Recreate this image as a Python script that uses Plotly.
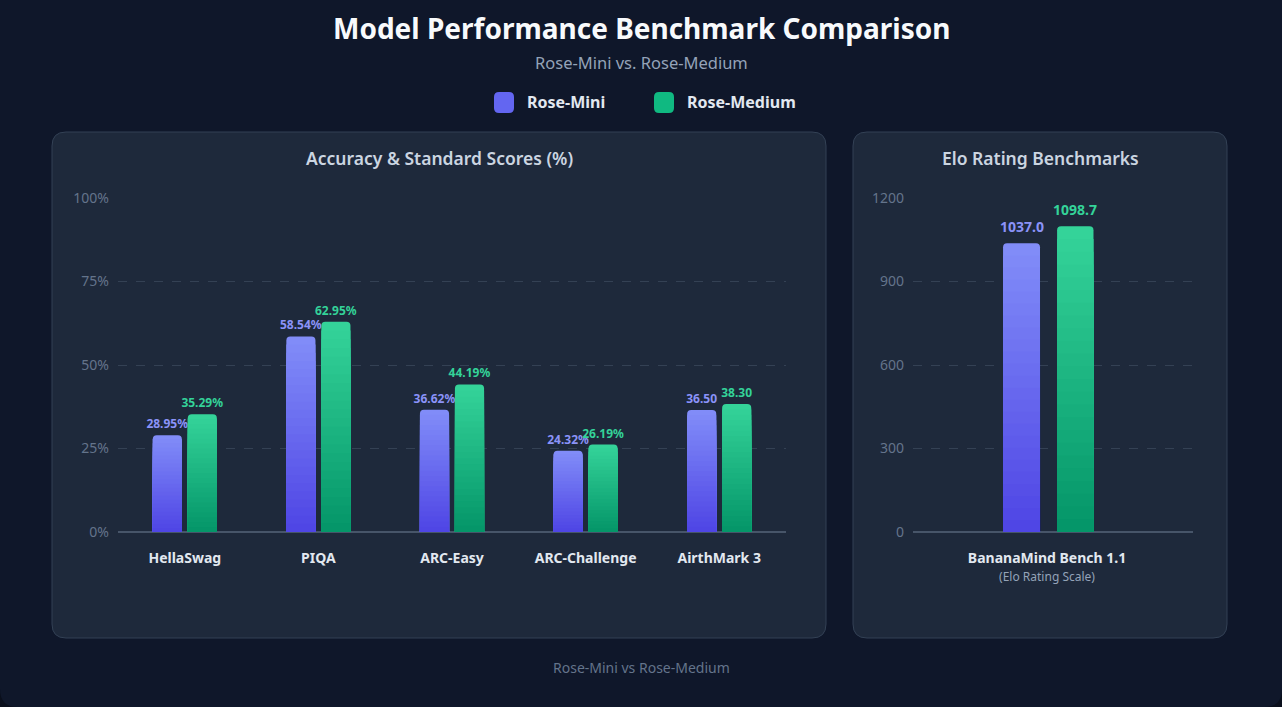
import plotly.graph_objects as go

# ---- data ----
categories = ["HellaSwag", "PIQA", "ARC-Easy", "ARC-Challenge", "AirthMark 3"]
mini_scores = [28.95, 58.54, 36.62, 24.32, 36.50]
medium_scores = [35.29, 62.95, 44.19, 26.19, 38.30]
score_suffix = ["%", "%", "%", "%", ""]

elo_categories = ["BananaMind Bench 1.1"]
mini_elo = [1037.0]
medium_elo = [1098.7]

pct_ticks = [0, 25, 50, 75, 100]
elo_ticks = [0, 300, 600, 900, 1200]

W, H = 1282, 707
FONT = "Segoe UI, Noto Sans, sans-serif"
PURPLE = ("#818cf8", "#4f46e5")
GREEN = ("#34d399", "#059669")


def px(x):
    return x / W


def py(y):
    return 1 - y / H


def rounded_path(x0, y0, x1, y1, r):
    # rounded rect in pixel coords -> paper path
    rx, ry = r / W, r / H
    a, b, c, d = px(x0), py(y0), px(x1), py(y1)
    return (f"M {a + rx},{b} L {c - rx},{b} Q {c},{b} {c},{b - ry} "
            f"L {c},{d + ry} Q {c},{d} {c - rx},{d} L {a + rx},{d} "
            f"Q {a},{d} {a},{d + ry} L {a},{b - ry} Q {a},{b} {a + rx},{b} Z")


def mix(c1, c2, t):
    c1 = [int(c1[i:i + 2], 16) for i in (1, 3, 5)]
    c2 = [int(c2[i:i + 2], 16) for i in (1, 3, 5)]
    return "rgb(%d,%d,%d)" % tuple(round(a + (b - a) * t) for a, b in zip(c1, c2))


def gradient_bars(fig, x, values, colors, width, offset, xa, ya,
                  labels=None, tsize=12, tcolor=None, n=24):
    # bars drawn as overlaid bands, light at top -> dark at bottom
    top, bottom = colors
    for k in range(n):
        ys = [v * (n - k) / n for v in values]
        kw = {}
        if k == 0:
            kw = dict(marker_cornerradius=4)
            if labels is not None:
                kw.update(text=labels, texttemplate="<b>%{text}</b>",
                          textposition="outside", constraintext="none",
                          cliponaxis=False,
                          textfont=dict(size=tsize, color=tcolor, family=FONT))
        fig.add_trace(go.Bar(x=x, y=ys, width=width, offset=offset,
                             marker_color=mix(top, bottom, k / (n - 1)),
                             marker_line_width=0, xaxis=xa, yaxis=ya,
                             showlegend=False, hoverinfo="skip", **kw))


fig = go.Figure()

mini_labels = [f"{v:.2f}{s}" for v, s in zip(mini_scores, score_suffix)]
med_labels = [f"{v:.2f}{s}" for v, s in zip(medium_scores, score_suffix)]
gradient_bars(fig, categories, mini_scores, PURPLE, 0.218, -0.24, "x", "y",
              mini_labels, 12, "#8b93f8")
gradient_bars(fig, categories, medium_scores, GREEN, 0.218, 0.022, "x", "y",
              med_labels, 12, "#34d399")

# elo bars: width / offset in category units
elo_bars = [(mini_elo, PURPLE, 0.132, -0.157, "#8b93f8"),
            (medium_elo, GREEN, 0.13, 0.036, "#34d399")]
annotations = []
for vals, cols, wd, off, tc in elo_bars:
    gradient_bars(fig, elo_categories, vals, cols, wd, off, "x2", "y2")
    for i, v in enumerate(vals):
        annotations.append(dict(xref="x2", yref="y2", x=i + off + wd / 2, y=v,
                                yshift=17, text=f"<b>{v:.1f}</b>",
                                font=dict(size=14, color=tc)))

shapes = [
    # page container with rounded bottom corners
    dict(type="path", xref="paper", yref="paper", layer="below",
         path=(f"M 0,1.1 L 1,1.1 L 1,{py(707 - 18)} Q 1,0 {1 - 18 / W},0 "
               f"L {18 / W},0 Q 0,0 0,{py(707 - 18)} Z"),
         fillcolor="#0f172a", line_width=0),
    dict(type="path", xref="paper", yref="paper", layer="below",
         path=rounded_path(52, 132, 826, 638, 14),
         fillcolor="#1e293b", line=dict(color="#334155", width=1)),
    dict(type="path", xref="paper", yref="paper", layer="below",
         path=rounded_path(853, 132, 1227, 638, 14),
         fillcolor="#1e293b", line=dict(color="#334155", width=1)),
    # legend swatches
    dict(type="path", xref="paper", yref="paper", layer="above",
         path=rounded_path(494, 92, 514, 113, 5),
         fillcolor="#6366f1", line_width=0),
    dict(type="path", xref="paper", yref="paper", layer="above",
         path=rounded_path(654, 92, 674, 113, 5),
         fillcolor="#10b981", line_width=0),
]

texts = [
    dict(text="<b>Model Performance Benchmark Comparison</b>", x=0.5, y=py(28),
         font=dict(size=28, color="#f8fafc")),
    dict(text="Rose-Mini vs. Rose-Medium", x=0.5, y=py(62),
         font=dict(size=16.5, color="#94a3b8")),
    dict(text="<b>Rose-Mini</b>", x=px(525), y=py(102), xanchor="left",
         font=dict(size=16, color="#e2e8f0")),
    dict(text="<b>Rose-Medium</b>", x=px(685), y=py(102), xanchor="left",
         font=dict(size=16, color="#e2e8f0")),
    dict(text="Accuracy & Standard Scores (%)", x=px(439), y=py(158),
         font=dict(size=17.5, color="#cbd5e1", weight=600)),
    dict(text="Elo Rating Benchmarks", x=px(1040), y=py(158),
         font=dict(size=17.5, color="#cbd5e1", weight=600)),
    dict(text="Rose-Mini vs Rose-Medium", x=0.5, y=py(667),
         font=dict(size=14, color="#64748b")),
]
for a in texts:
    a.update(xref="paper", yref="paper")
annotations += texts
for a in annotations:
    a["showarrow"] = False
    a.setdefault("xanchor", "center")
    a.setdefault("yanchor", "middle")

grid = dict(showgrid=True, gridcolor="rgba(71,85,105,0.55)", griddash="dash",
            gridwidth=1, zeroline=True, zerolinecolor="#475569",
            zerolinewidth=2, showline=False, ticks="", automargin=False,
            tickfont=dict(size=14, color="#64748b"), ticklabelstandoff=8)
xbase = dict(showgrid=False, zeroline=False, showline=False, ticks="",
             automargin=False,
             tickfont=dict(size=14, color="#e2e8f0"), ticklabelstandoff=16)

# one extra pixel on top so the top gridline is kept
fig.update_layout(
    width=W, height=H, margin=dict(l=0, r=0, t=0, b=0),
    paper_bgcolor="#0a0f1c", plot_bgcolor="rgba(0,0,0,0)",
    font=dict(family=FONT), barmode="overlay", showlegend=False,
    xaxis=dict(xbase, domain=[px(118), px(786)], anchor="y",
               tickvals=categories,
               ticktext=[f"<b>{c}</b>" for c in categories]),
    yaxis=dict(grid, domain=[py(532), py(197)], anchor="x", range=[0, 100.3],
               tickvals=pct_ticks, ticktext=[f"{t}%" for t in pct_ticks]),
    xaxis2=dict(xbase, domain=[px(913), px(1193)], anchor="y2",
                range=[-0.4786, 0.5214], tickvals=elo_categories,
                ticktext=[f"<b>{c}</b><br><span style='font-size:12px;color:#94a3b8'>"
                          "(Elo Rating Scale)</span>" for c in elo_categories]),
    yaxis2=dict(grid, domain=[py(532), py(197)], anchor="x2", range=[0, 1203.6],
                tickvals=elo_ticks),
    shapes=shapes, annotations=annotations,
)

fig.write_html("out.html", config={"displayModeBar": False},
               post_script="document.body.style.margin='0';"
                           "document.body.style.background='#0a0f1c';")
